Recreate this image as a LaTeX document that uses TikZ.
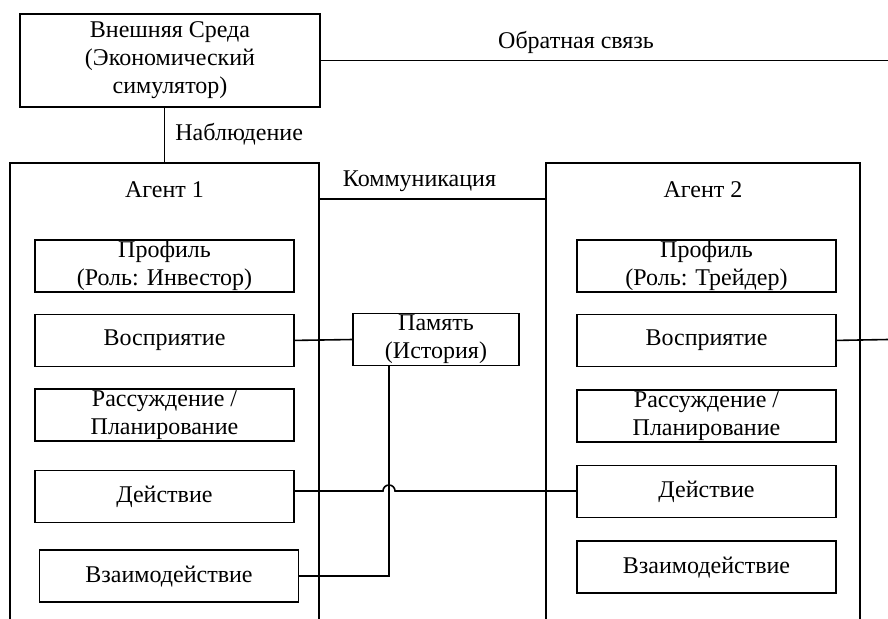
\documentclass[tikz,border=0pt]{standalone}
\usepackage{fontspec}
\setmainfont{Liberation Serif}
\usetikzlibrary{positioning}
\tikzset{
  node distance=11pt,
  box/.style={rectangle, draw, line width=0.8pt, align=center, minimum width=129.5pt,
              minimum height=26pt, inner sep=0pt, font=\fontsize{12}{14}\selectfont},
  frame/.style={rectangle, draw, line width=0.8pt, minimum height=235pt, inner sep=0pt},
  link/.style={line width=0.8pt},
  lbl/.style={font=\fontsize{12}{14}\selectfont, inner sep=0pt},
}

\begin{document}
\begin{tikzpicture}[x=0.5pt, y=-0.5pt]
    \path[use as bounding box, clip] (0,0) rectangle (888,618);

    % environment
    \node[box, minimum width=150pt, minimum height=46.5pt] (env) at (170,60.5)
      {Внешняя Среда\\(Экономический\\симулятор)};
    \coordinate (fend) at (888,60.5);
    \draw[link] (env.east) -- (fend) node[lbl, pos=0.45, above=3pt] (fb) {Обратная связь};

    % agent frames
    \node[frame, minimum width=154.5pt, anchor=north] (ag1) at (164.5,162) {};
    \node[frame, minimum width=157pt, anchor=north] (ag2) at (703,162) {};
    \node[lbl] (t1) at (164.5,190) {Агент 1};
    \node[lbl] (t2) at (703,190) {Агент 2};

    \draw[link] (ag1.north) -- (ag1.north |- env.south);
    \node[lbl, anchor=west] (obs) at (175,134) {Наблюдение};

    \draw[link] ([yshift=-18.5pt]ag1.north east) -- ([yshift=-18.5pt]ag2.north west);
    \node[lbl] (comm) at (419.5,181) {Коммуникация};

    % agent 1 modules
    \node[box, below=38.5pt of ag1.north] (prof1) {Профиль\\(Роль: Инвестор)};
    \node[box, below=10.5pt of prof1] (perc1) {Восприятие};
    \node[box, below=10.5pt of perc1] (reas1) {Рассуждение /\\Планирование};
    \node[box, below=14pt of reas1] (act1) {Действие};
    \node[box, below=13pt of act1, xshift=2.25pt] (int1) {Взаимодействие};

    % agent 2 modules
    \node[box, below=38.5pt of ag2.north, xshift=1.75pt] (prof2) {Профиль\\(Роль: Трейдер)};
    \node[box, below=10.5pt of prof2] (perc2) {Восприятие};
    \node[box, below=of perc2] (reas2) {Рассуждение /\\Планирование};
    \node[box, below=of reas2] (act2) {Действие};
    \node[box, below=of act2] (int2) {Взаимодействие};

    % shared memory
    \node[box, minimum width=83pt] (mem) at (436,339.5) {Память\\(История)};

    \coordinate (hop) at (389,491);
    \coordinate (pend) at (888,339.5);
    \draw[link] (perc1.east) -- (mem.west);
    \draw[link] (perc2.east) -- (pend);
    \draw[link] (int1.east) -| (hop |- mem.south);
    \draw[link] (act1.east |- hop) -- ([xshift=-3pt]hop) arc[start angle=180, end angle=0, radius=3pt]
      -- (act2.west |- hop);
\end{tikzpicture}
\end{document}
